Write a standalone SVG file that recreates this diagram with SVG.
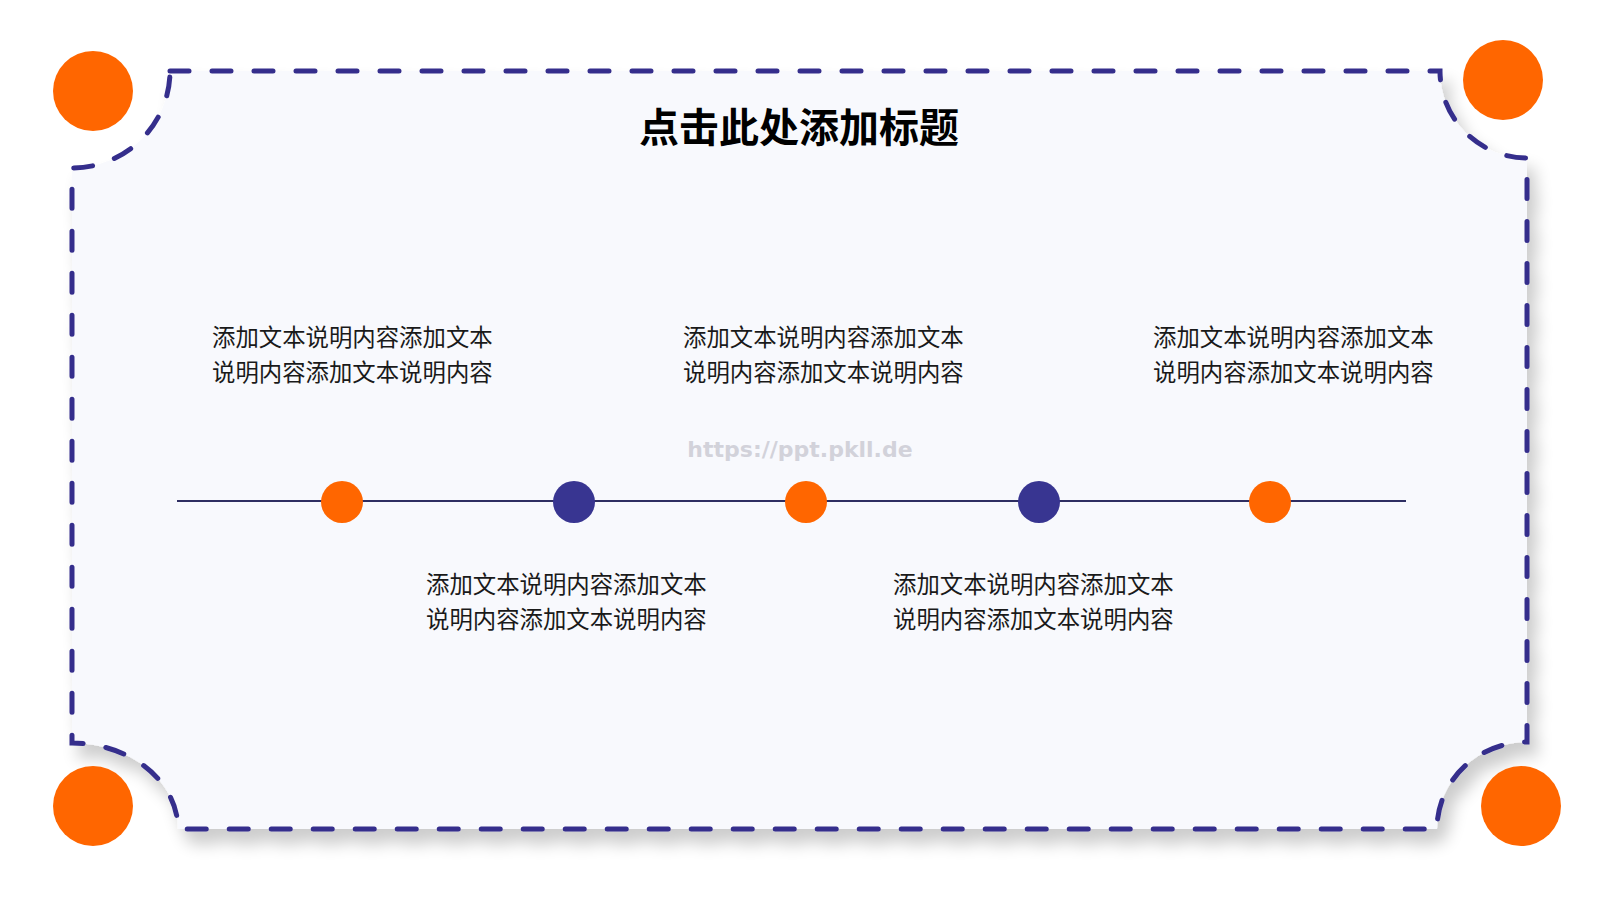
<svg xmlns="http://www.w3.org/2000/svg" width="1600" height="900" viewBox="0 0 1600 900">
  <defs>
    <filter id="shadow" x="-10%" y="-10%" width="120%" height="130%">
      <feGaussianBlur in="SourceAlpha" stdDeviation="8"/>
      <feOffset dx="8" dy="13" result="b"/>
      <feComponentTransfer><feFuncA type="linear" slope="0.2"/></feComponentTransfer>
      <feMerge><feMergeNode/><feMergeNode in="SourceGraphic"/></feMerge>
    </filter>
  </defs>
  <style>
    .frame { fill: #F8F9FD; stroke: #352F8C; stroke-width: 5; stroke-dasharray: 19 23; stroke-linecap: round; }
    .corner { fill: #FF6600; }
    .orange { fill: #FF6600; }
    .blue { fill: #383591; }
    .title { font-family: "Noto Sans CJK SC", sans-serif; font-weight: 700; font-size: 40px; fill: #000; text-anchor: middle; }
    .body { font-family: "Noto Sans CJK SC", sans-serif; font-size: 23.4px; fill: #1a1a1a; }
    .wm { font-family: "DejaVu Sans", sans-serif; font-weight: 700; font-size: 22px; fill: #D2D2DA; text-anchor: middle; }
  </style>
  <rect width="1600" height="900" fill="#FFFFFF"/>
  <g id="frame">
    <path class="frame" filter="url(#shadow)" d="M 170 71 L 1440 71 A 87 87 0 0 0 1527 158 L 1527 742 A 90 87 0 0 0 1437 829 L 178 829 A 106 86 0 0 0 72 743 L 72 168 A 98 97 0 0 0 170 71 Z"/>
  </g>
  <g id="corners">
    <circle class="corner" cx="93" cy="91" r="40"/>
    <circle class="corner" cx="1503" cy="80" r="40"/>
    <circle class="corner" cx="93" cy="806" r="40"/>
    <circle class="corner" cx="1521" cy="806" r="40"/>
  </g>
  <g id="title">
    <text class="title" x="799" y="142">点击此处添加标题</text>
  </g>
  <text class="wm" x="800" y="457">https://ppt.pkll.de</text>
  <g id="connectors">
    <line x1="177" y1="501" x2="1406" y2="501" stroke="#2E2E62" stroke-width="2"/>
  </g>
  <g id="node1"><circle class="orange" cx="342" cy="502" r="21"/></g>
  <g id="node2"><circle class="blue" cx="574" cy="502" r="21"/></g>
  <g id="node3"><circle class="orange" cx="806" cy="502" r="21"/></g>
  <g id="node4"><circle class="blue" cx="1039" cy="502" r="21"/></g>
  <g id="node5"><circle class="orange" cx="1270" cy="502" r="21"/></g>
  <g id="text1">
    <text class="body" x="212" y="346">添加文本说明内容添加文本</text>
    <text class="body" x="212" y="381">说明内容添加文本说明内容</text>
  </g>
  <g id="text2">
    <text class="body" x="426" y="593">添加文本说明内容添加文本</text>
    <text class="body" x="426" y="628">说明内容添加文本说明内容</text>
  </g>
  <g id="text3">
    <text class="body" x="683" y="346">添加文本说明内容添加文本</text>
    <text class="body" x="683" y="381">说明内容添加文本说明内容</text>
  </g>
  <g id="text4">
    <text class="body" x="893" y="593">添加文本说明内容添加文本</text>
    <text class="body" x="893" y="628">说明内容添加文本说明内容</text>
  </g>
  <g id="text5">
    <text class="body" x="1153" y="346">添加文本说明内容添加文本</text>
    <text class="body" x="1153" y="381">说明内容添加文本说明内容</text>
  </g>
</svg>
